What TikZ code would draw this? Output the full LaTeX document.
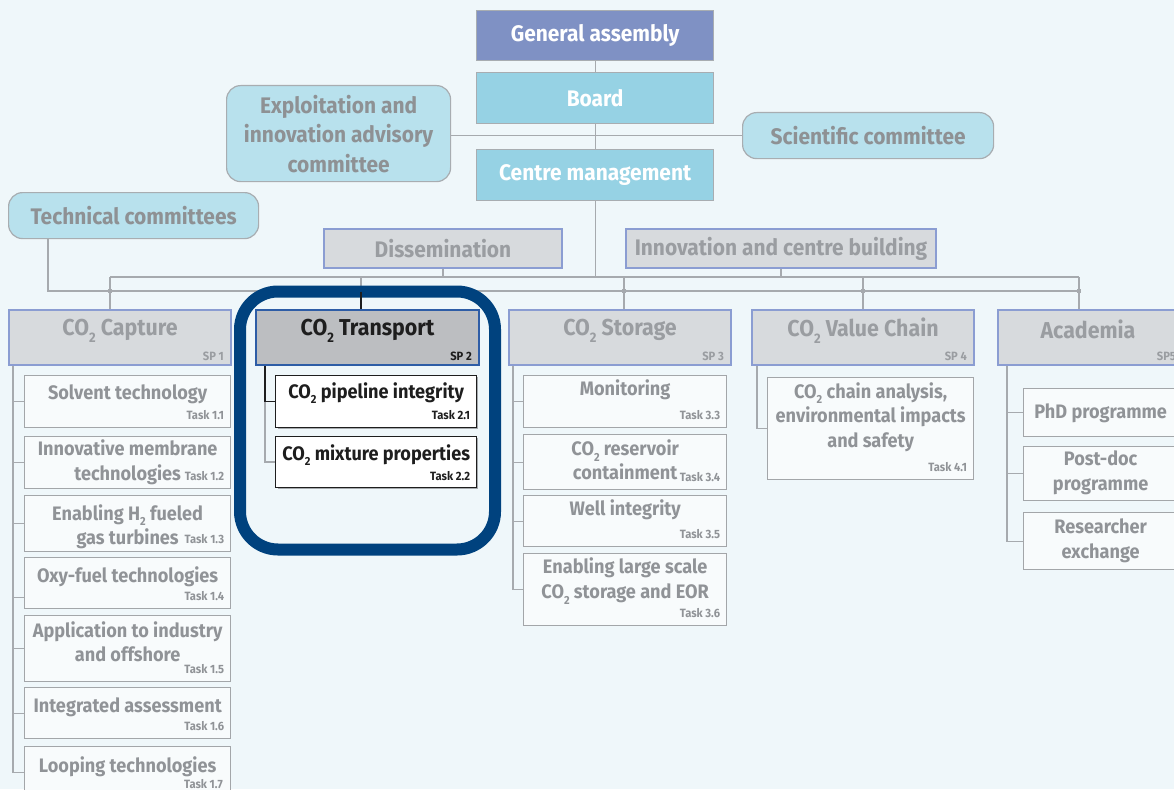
\documentclass[tikz,border=0pt]{standalone}
\usepackage{fontspec}
\setmainfont{Fira Sans}[FakeStretch=0.93]
\usetikzlibrary{calc}
\pgfdeclarelayer{bglayer}
\pgfdeclarelayer{linelayer}
\pgfsetlayers{bglayer,linelayer,main}
\definecolor{bgc}{HTML}{EFF7FA}
\definecolor{gafill}{HTML}{7F91C4}
\definecolor{bdfill}{HTML}{96D2E4}
\definecolor{cmtfill}{HTML}{B8E1ED}
\definecolor{grayborder}{HTML}{A8ADB1}
\definecolor{linec}{HTML}{A6AAAE}
\definecolor{spfill}{HTML}{D7DADD}
\definecolor{spborder}{HTML}{8B9DD2}
\definecolor{sptext}{HTML}{9A9DA1}
\definecolor{trfill}{HTML}{BCBEC1}
\definecolor{trborder}{HTML}{2E5DA6}
\definecolor{darktext}{HTML}{1E1E1E}
\definecolor{hlc}{HTML}{00427E}
\definecolor{tfill}{HTML}{F8FBFC}
\definecolor{tborder}{HTML}{A3A6A9}
\definecolor{ttext}{HTML}{909397}
\definecolor{cmttext}{HTML}{8E9194}
\newcommand{\COt}{CO\raisebox{-0.55ex}{\scalebox{0.6}{2}}}
\newcommand{\Ht}{H\raisebox{-0.55ex}{\scalebox{0.6}{2}}}
\tikzset{
  conn/.style={draw=linec, line width=1.2pt},
  darkconn/.style={draw=darktext, line width=1.2pt},
  headfont/.style={font=\bfseries\fontsize{22.5}{29.5}\selectfont},
  topbox/.style={headfont, anchor=north west, inner sep=0pt, draw=grayborder, line width=1.2pt, text=white, align=center},
  cmtbox/.style={headfont, anchor=north west, inner sep=0pt, draw=grayborder, line width=1.2pt, fill=cmtfill, text=cmttext, rounded corners=14pt, align=center},
  midbox/.style={headfont, anchor=north west, inner sep=0pt, draw=spborder, line width=2pt, fill=spfill, text=sptext},
  spbox/.style={anchor=north west, inner sep=0pt, draw=spborder, line width=2pt, fill=spfill, minimum height=55pt},
  sptitle/.style={font=\bfseries\fontsize{23}{27}\selectfont, text=sptext, inner sep=0pt},
  splabel/.style={font=\bfseries\fontsize{12}{14}\selectfont, text=sptext, inner sep=0pt, anchor=base east},
  tbox/.style={anchor=north west, inner sep=0pt, draw=tborder, line width=1.3pt, fill=tfill},
  ttitle/.style={font=\bfseries\fontsize{19.5}{24.5}\selectfont, text=ttext, inner sep=0pt, align=center},
  tlabel/.style={font=\bfseries\fontsize{12}{14}\selectfont, text=ttext, inner sep=0pt, anchor=base east},
  dot/.style={fill=linec},
}
% #1 name, #2 x, #3 y, #4 w, #5 h, #6 title centre y, #7 title
\newcommand{\taskbox}[7]{%
  \node[tbox, minimum width=#4pt, minimum height=#5pt] (#1) at (#2,#3) {};
  \node[ttitle] (#1t) at (#1.north |- 0,#6) {#7};
}
\newcommand{\tasklab}[2]{%
  \node[tlabel] (#1l) at ([xshift=-7pt,yshift=8.5pt]#1.south east) {#2};
}
\begin{document}
\begin{tikzpicture}[x=1pt,y=-1pt]
\begin{pgfonlayer}{bglayer}
\fill[bgc] (0,0) rectangle (1174,789);
\end{pgfonlayer}
\useasboundingbox (0,0) rectangle (1174,789);

% top
\node[topbox, fill=gafill, minimum width=237pt, minimum height=50pt] (ga) at (476,10) {General assembly};
\node[topbox, fill=bdfill, minimum width=237pt, minimum height=51pt] (bd) at (476,72) {Board};
\node[topbox, fill=bdfill, minimum width=237pt, minimum height=51pt] (cm) at (476,149) {Centre management};
\node[cmtbox, minimum width=224pt, minimum height=96pt] (ex) at (226,85) {Exploitation and\\innovation advisory\\committee};
\node[cmtbox, minimum width=251pt, minimum height=46pt] (sc) at (742,112) {Scientific committee};
\node[cmtbox, minimum width=250pt, minimum height=46pt] (tc) at (8,192) {Technical committees};
\node[midbox, minimum width=238pt, minimum height=39pt] (dis) at (323,228) {Dissemination};
\node[midbox, minimum width=310pt, minimum height=39pt] (inn) at (625,228) {Innovation and centre building};

% bus coordinates
\coordinate (bU1) at (110,277);
\coordinate (bU2) at (361,277);
\coordinate (bU3) at (624,277);
\coordinate (bU4) at (863,277);
\coordinate (bU5) at (1079,277);
\coordinate (bL) at (0,291);
\coordinate (tcdrop) at ([xshift=40pt]tc.south west);

% highlight
\node[draw=hlc, line width=12pt, fill=bgc, rounded corners=38pt, minimum width=255pt, minimum height=258pt, inner sep=0pt] (hl) at (367.5,420.5) {};

% SP boxes
\node[spbox, minimum width=222pt] (cap) at (8,309) {};
\node[spbox, minimum width=223pt, fill=trfill, draw=trborder] (tr) at (255,309) {};
\node[spbox, minimum width=222pt] (st) at (508,309) {};
\node[spbox, minimum width=222pt] (vc) at (751,309) {};
\node[spbox, minimum width=180pt] (ac) at (997,309) {};

\node[sptitle] (capt) at ([yshift=-22pt]cap.north) {\COt\ Capture};
\node[sptitle, text=darktext] (trt) at ([yshift=-22pt]tr.north) {\COt\ Transport};
\node[sptitle] (stt) at ([yshift=-22pt]st.north) {\COt\ Storage};
\node[sptitle] (vct) at ([yshift=-22pt]vc.north) {\COt\ Value Chain};
\node[sptitle] (act) at ([yshift=-20pt]ac.north) {Academia};
\node[splabel] (capl) at ([xshift=-8pt,yshift=6pt]cap.south east) {SP 1};
\node[splabel, text=darktext] (trl) at ([xshift=-8pt,yshift=6pt]tr.south east) {SP 2};
\node[splabel] (stl) at ([xshift=-8pt,yshift=6pt]st.south east) {SP 3};
\node[splabel] (vcl) at ([xshift=-8pt,yshift=6pt]vc.south east) {SP 4};
\node[splabel] (acl) at ([xshift=-3pt,yshift=6pt]ac.south east) {SP5};

% Capture tasks
\taskbox{t11}{24}{375}{206}{52}{394}{Solvent technology}
\tasklab{t11}{Task 1.1}
\taskbox{t12}{24}{436}{206}{52}{462.5}{Innovative membrane\\technologies}
\tasklab{t12}{Task 1.2}
\taskbox{t13}{24}{495}{206}{56}{526.5}{Enabling \Ht\ fueled\\gas turbines}
\tasklab{t13}{Task 1.3}
\taskbox{t14}{24}{557}{206}{51}{577}{Oxy-fuel technologies}
\tasklab{t14}{Task 1.4}
\taskbox{t15}{24}{615}{206}{66}{641.5}{Application to industry\\and offshore}
\tasklab{t15}{Task 1.5}
\taskbox{t16}{24}{687}{206}{51}{707}{Integrated assessment}
\tasklab{t16}{Task 1.6}
\taskbox{t17}{24}{746}{206}{52}{767}{Looping technologies}
\node[tlabel] (t17l) at (223,788) {Task 1.7};

% Transport tasks
\fill[linec] (278,377) rectangle (478,429);
\fill[linec] (278,438) rectangle (478,489);
\node[tbox, fill=white, draw=darktext, minimum width=201pt, minimum height=52pt] (t21) at (275,375) {};
\node[ttitle, text=darktext] (t21t) at (t21.north |- 0,393) {\COt\ pipeline integrity};
\node[tlabel, text=darktext] (t21l) at ([xshift=-7pt,yshift=9pt]t21.south east) {Task 2.1};
\node[tbox, fill=white, draw=darktext, minimum width=201pt, minimum height=51pt] (t22) at (275,436) {};
\node[ttitle, text=darktext] (t22t) at (t22.north |- 0,455) {\COt\ mixture properties};
\node[tlabel, text=darktext] (t22l) at ([xshift=-7pt,yshift=8pt]t22.south east) {Task 2.2};

% Storage tasks
\taskbox{t33}{523}{375}{203}{52}{390}{Monitoring}
\tasklab{t33}{Task 3.3}
\taskbox{t34}{523}{434}{203}{55}{460}{\COt\ reservoir\\containment}
\tasklab{t34}{Task 3.4}
\taskbox{t35}{523}{495}{203}{51}{510}{Well integrity}
\tasklab{t35}{Task 3.5}
\taskbox{t36}{523}{553}{203}{72}{581}{Enabling large scale\\\COt\ storage and EOR}
\tasklab{t36}{Task 3.6}

% Value chain task
\taskbox{t41}{767}{377}{206}{102}{417}{\COt\ chain analysis,\\environmental impacts\\and safety}
\tasklab{t41}{Task 4.1}

% Academia tasks
\taskbox{a1}{1023}{388}{154}{48}{413}{PhD programme}
\taskbox{a2}{1023}{446}{154}{54}{473}{Post-doc\\programme}
\taskbox{a3}{1023}{512}{154}{57}{541}{Researcher\\exchange}

% inner transport connector
\draw[darkconn] ($(bU2 |- hl.north)+(0,6)$) -- (bU2 |- tr.north);
\coordinate (trS) at ([xshift=10pt]tr.south west);
\draw[conn, line width=2pt] (trS) -- (trS |- t22.west) -- (t22.west);
\draw[darkconn] (trS) -- (trS |- t21.west) -- (t21.west);

\begin{pgfonlayer}{linelayer}
\draw[conn] (ga.south) -- (cm.north);
\draw[conn] (sc.west) -- (sc.west -| ex.east);
\draw[conn] (cm.south) -- (cm.south |- bU1);
\draw[conn] (dis.south) -- (dis.south |- bU1);
\draw[conn] (inn.south) -- (inn.south |- bU1);
\draw[conn] (bU1) -- (bU5);
\draw[conn] (tcdrop) -- (tcdrop |- bL) -- (bU5 |- bL);
\draw[conn] (bU1) -- (bU1 |- cap.north);
\draw[conn] (bU2) -- (bU2 |- tr.north);
\draw[conn] (bU3) -- (bU3 |- st.north);
\draw[conn] (bU4) -- (bU4 |- vc.north);
\draw[conn] (bU5) -- (bU5 |- ac.north);
\foreach \c in {bU1,bU3,bU4,bU5} \fill[dot] ([xshift=-2.2pt,yshift=-2.2pt]\c |- bL) rectangle ([xshift=2.2pt,yshift=2.2pt]\c |- bL);
% capture spine
\coordinate (capS) at ([xshift=5pt]cap.south west);
\draw[conn] (capS) -- (capS |- t17.west) -- (t17.west);
\foreach \t in {t11,t12,t13,t15,t16} \draw[conn] (capS |- \t.west) -- (\t.west);
\draw[conn] ([yshift=-14pt]capS |- t14.west) -- ([yshift=-14pt]t14.west);
% storage spine
\coordinate (stS) at ([xshift=5pt]st.south west);
\draw[conn] (stS) -- (stS |- t36.west) -- (t36.west);
\foreach \t in {t33,t34,t35} \draw[conn] (stS |- \t.west) -- (\t.west);
% value chain spine
\coordinate (vcS) at ([xshift=6pt]vc.south west);
\draw[conn] (vcS) -- (vcS |- t41.west) -- (t41.west);
% academia spine
\coordinate (acS) at ([xshift=10pt]ac.south west);
\draw[conn] (acS) -- (acS |- a3.west) -- (a3.west);
\foreach \t in {a1,a2} \draw[conn] (acS |- \t.west) -- (\t.west);
\end{pgfonlayer}
\end{tikzpicture}
\end{document}
